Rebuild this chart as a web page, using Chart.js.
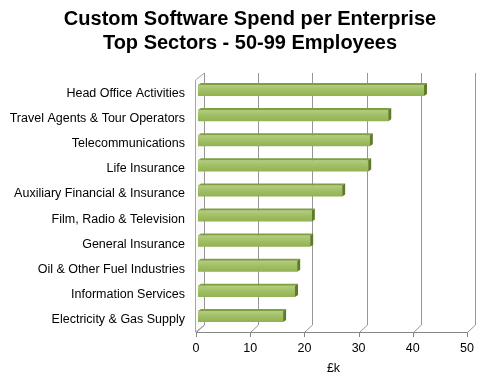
<!DOCTYPE html>
<html>
<head>
<meta charset="utf-8">
<script src="https://cdn.jsdelivr.net/npm/chart.js@4/dist/chart.umd.min.js"></script>
<style>
    body { margin: 0; background: #fff; }
    canvas { display: block; }
</style>
</head>
<body>
<canvas id="barChart" width="500" height="390"></canvas>
<script>
const sectors = [
    'Head Office Activities',
    'Travel Agents & Tour Operators',
    'Telecommunications',
    'Life Insurance',
    'Auxiliary Financial & Insurance',
    'Film, Radio & Television',
    'General Insurance',
    'Oil & Other Fuel Industries',
    'Information Services',
    'Electricity & Gas Supply'
];
const spend = [41.7, 35.1, 31.7, 31.4, 26.6, 21.0, 20.7, 18.3, 17.9, 15.7];
const xTicks = [0, 10, 20, 30, 40, 50];
const titleLines = ['Custom Software Spend per Enterprise', 'Top Sectors - 50-99 Employees'];
const axisTitle = '£k';

const FONT = "'Liberation Sans', Arial, sans-serif";

// draws the back wall, slanted gridlines and front axis (fake 3D like Excel)
const wallPlugin = {
    id: 'wall3d',
    beforeDatasetsDraw(chart) {
        const ctx = chart.ctx;
        const xs = chart.scales.x;
        const area = chart.chartArea;
        const backTop = area.top - 5;
        const backBottom = area.bottom - 4;
        const frontBottom = area.bottom + 3;

        ctx.save();
        ctx.lineWidth = 1;

        // left wall
        const x0 = xs.getPixelForValue(0);
        ctx.fillStyle = '#fafafa';
        ctx.beginPath();
        ctx.moveTo(x0 - 2.5, area.top + 2);
        ctx.lineTo(x0 + 6.5, backTop);
        ctx.lineTo(x0 + 6.5, backBottom);
        ctx.lineTo(x0 - 2.5, frontBottom);
        ctx.closePath();
        ctx.fill();
        ctx.strokeStyle = '#a6a6a6';
        ctx.stroke();

        // back gridlines + slant down to the front axis
        ctx.strokeStyle = '#969696';
        xTicks.forEach(v => {
            const px = Math.round(xs.getPixelForValue(v));
            ctx.beginPath();
            ctx.moveTo(px + 6.5, backTop);
            ctx.lineTo(px + 6.5, backBottom);
            ctx.lineTo(px - 1.5, frontBottom + 0.5);
            ctx.stroke();
        });

        // front axis line and tick marks
        ctx.strokeStyle = '#868686';
        ctx.beginPath();
        ctx.moveTo(Math.round(x0) - 2, frontBottom + 0.5);
        ctx.lineTo(Math.round(xs.getPixelForValue(50)) - 1, frontBottom + 0.5);
        xTicks.forEach(v => {
            const px = Math.round(xs.getPixelForValue(v)) - 1.5;
            ctx.moveTo(px, frontBottom);
            ctx.lineTo(px, frontBottom + 5);
        });
        ctx.stroke();
        ctx.restore();
    },
    afterDatasetsDraw(chart) {
        const ctx = chart.ctx;
        const meta = chart.getDatasetMeta(0);
        ctx.save();
        meta.data.forEach(bar => {
            const p = bar.getProps(['x', 'y', 'base', 'height'], true);
            const top = p.y - p.height / 2;
            const bottom = p.y + p.height / 2;

            // soft highlight on the front face
            const g = ctx.createLinearGradient(0, top, 0, bottom);
            g.addColorStop(0, 'rgba(255,255,255,0.25)');
            g.addColorStop(0.5, 'rgba(255,255,255,0.05)');
            g.addColorStop(1, 'rgba(0,0,0,0.06)');
            ctx.fillStyle = g;
            ctx.fillRect(p.base, top, p.x - p.base, bottom - top);

            // top face
            ctx.fillStyle = '#7f9e3e';
            ctx.beginPath();
            ctx.moveTo(p.base, top);
            ctx.lineTo(p.base + 3, top - 2);
            ctx.lineTo(p.x + 3, top - 2);
            ctx.lineTo(p.x, top);
            ctx.closePath();
            ctx.fill();

            // end face
            ctx.fillStyle = '#5f7b28';
            ctx.beginPath();
            ctx.moveTo(p.x, top);
            ctx.lineTo(p.x + 3, top - 2);
            ctx.lineTo(p.x + 3, bottom - 2);
            ctx.lineTo(p.x, bottom);
            ctx.closePath();
            ctx.fill();
        });
        ctx.restore();
    }
};

document.addEventListener('DOMContentLoaded', function () {
    const ctx = document.getElementById('barChart').getContext('2d');
    new Chart(ctx, {
        type: 'bar',
        data: {
            labels: sectors,
            datasets: [{
                data: spend,
                backgroundColor: '#9bbb59',
                borderWidth: 0,
                barPercentage: 0.9,
                categoryPercentage: 0.49
            }]
        },
        options: {
            indexAxis: 'y',
            responsive: false,
            maintainAspectRatio: false,
            animation: false,
            layout: { padding: 0 },
            plugins: {
                legend: { display: false },
                tooltip: { enabled: false },
                title: {
                    display: true,
                    text: titleLines,
                    color: '#000',
                    font: { family: FONT, size: 20, weight: 'bold', lineHeight: 1.2 },
                    padding: { top: 7, bottom: 23 }
                }
            },
            scales: {
                x: {
                    min: 0,
                    max: 50,
                    grid: { display: false, drawTicks: false },
                    border: { display: false },
                    ticks: {
                        stepSize: 10,
                        color: '#000',
                        padding: 12,
                        labelOffset: -2,
                        font: { family: FONT, size: 12.5 }
                    },
                    title: {
                        display: true,
                        text: axisTitle,
                        color: '#000',
                        font: { family: FONT, size: 12.5 },
                        padding: { top: 4, bottom: 14 }
                    },
                    afterFit(scale) { scale.height = 61; }
                },
                y: {
                    grid: { display: false, drawTicks: false },
                    border: { display: false },
                    ticks: {
                        color: '#000',
                        padding: 13,
                        labelOffset: 3,
                        font: { family: FONT, size: 12.5 }
                    },
                    afterFit(scale) { scale.width = 198; }
                },
                // empty strip on the right so the title stays centred on the page
                rightGap: {
                    type: 'category',
                    position: 'right',
                    labels: sectors,
                    grid: { display: false, drawTicks: false },
                    border: { display: false },
                    ticks: { display: false },
                    afterFit(scale) { scale.width = 31; }
                }
            }
        },
        plugins: [wallPlugin]
    });
});
</script>
</body>
</html>
